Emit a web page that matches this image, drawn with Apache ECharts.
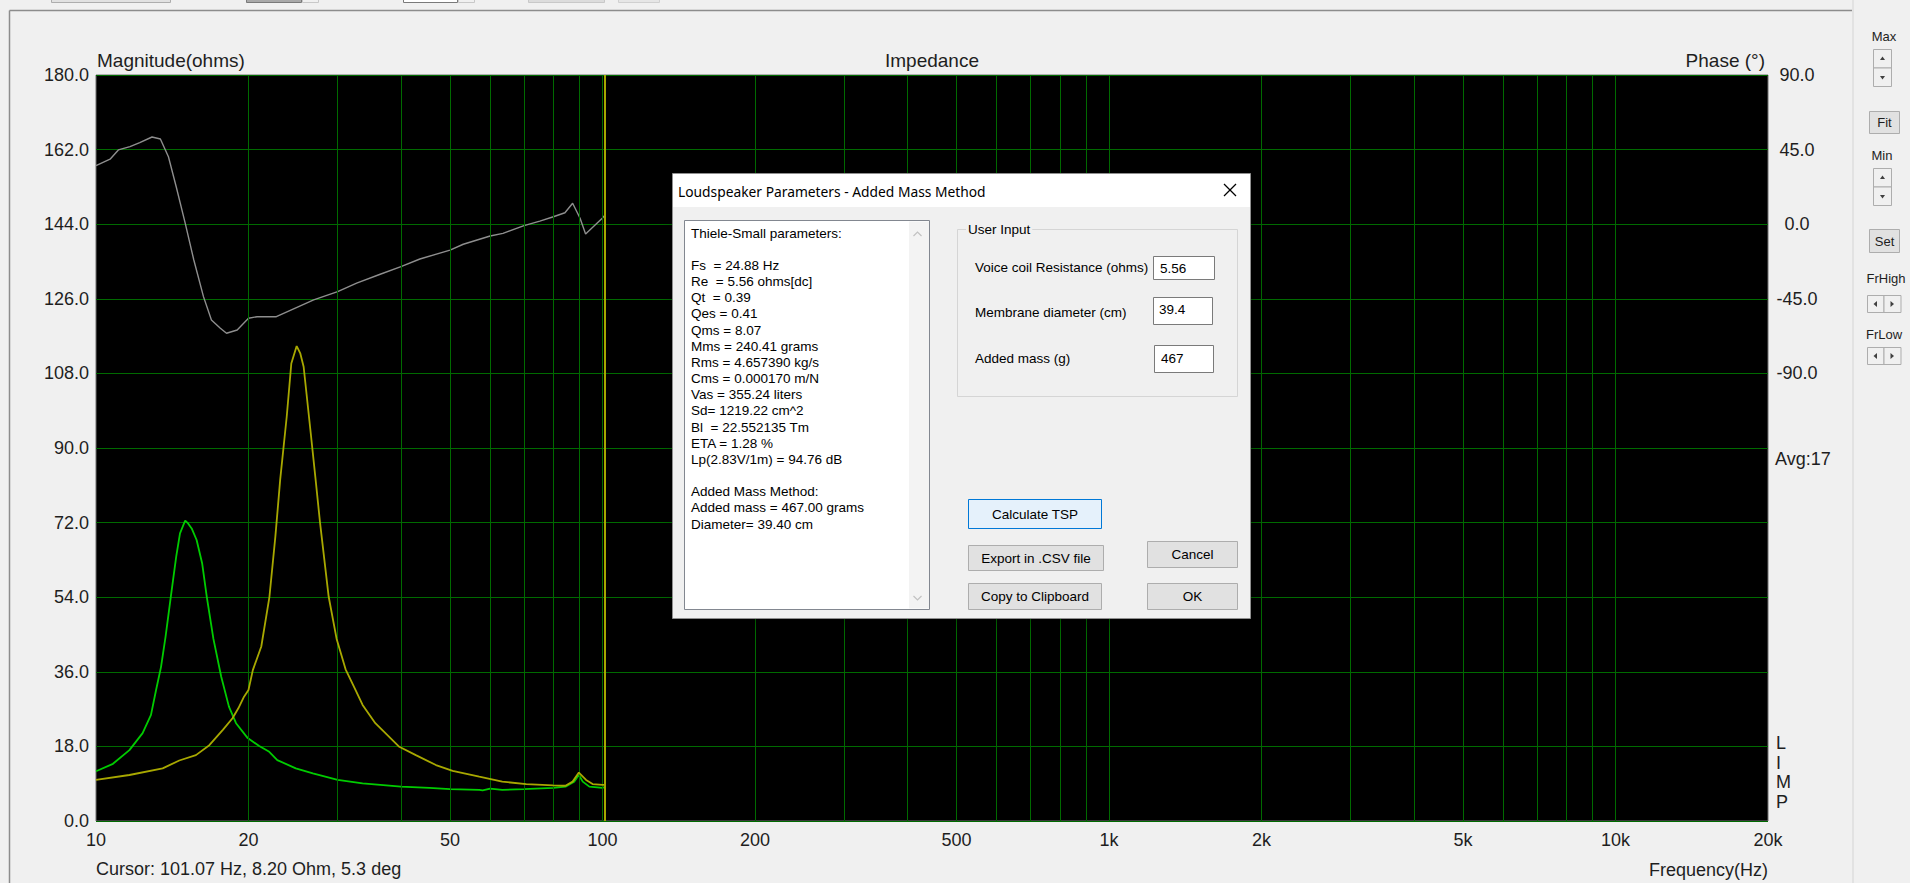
<!DOCTYPE html>
<html>
<head>
<meta charset="utf-8">
<script src="https://cdn.jsdelivr.net/npm/echarts@6/dist/echarts.min.js"></script>
<style>
html,body{margin:0;padding:0;background:#f0f0f0;}
#chart{width:1910px;height:883px;}
</style>
</head>
<body>
<div id="chart"></div>
<script>
// ---------- data ----------
const greenFreq = [10,10.8,11.64,12.36,12.84,13.14,13.44,13.72,14.05,14.4,14.65,15.0,15.2,15.45,15.8,16.2,16.55,17.05,17.67,18.3,18.9,19.93,21.0,21.98,22.8,24.8,26.8,30,33.6,40,45.5,50,57.1,58,60,63.4,70,80,84.5,87.9,89.8,91.4,94.2,100,101];
const greenMag  = [12.0,13.8,17.1,21.2,25.6,31.6,37.2,44.5,54.1,63.8,69.4,72.5,71.8,70.6,67.8,62.2,54.0,44.0,34.8,27.6,23.6,20.0,18.1,16.7,14.7,12.7,11.5,9.9,9.1,8.3,8.0,7.7,7.5,7.4,7.8,7.5,7.7,8.0,8.3,9.5,11.1,9.5,8.3,8.0,8.2];

const yellowFreq = [10,11.64,13.54,14.6,15.75,16.74,17.8,18.6,19.1,19.6,20.0,20.4,21.2,22.0,22.6,23.1,23.8,24.3,24.9,25.3,25.7,26.5,27.1,27.7,28.8,29.85,31.1,32.6,33.6,35.6,39.7,42.8,46.9,50.6,57.1,63.4,70.7,79.8,84.5,87.3,89.8,92.8,95.6,100,101];
const yellowMag  = [9.9,11.1,12.7,14.6,15.9,18.3,22.0,24.8,27.2,30.0,31.6,36.4,42.1,54.1,68.6,82.3,97.6,110.4,114.6,112.9,109.6,94.4,83.1,71.8,54.1,44.0,36.6,31.4,28.0,23.6,17.9,15.9,13.5,12.1,10.7,9.5,8.9,8.6,8.5,9.5,11.7,9.9,8.9,8.7,8.7];

const phaseFreq = [10,10.66,11.07,11.67,12.2,12.9,13.4,13.9,14.4,15.0,15.6,16.3,16.9,17.6,18.1,19.0,20.0,20.8,22.7,26.9,30,32.7,36.4,40,43.6,50,53.1,60,63.6,70,75.2,80,84.3,87.3,90.3,92.6,100,101];
const phaseDeg  = [35.3,39.2,44.8,46.8,49.2,52.6,51.4,40.7,22.6,0.6,-21.6,-43.7,-57.8,-62.8,-65.8,-63.8,-56.7,-55.8,-55.8,-45.7,-40.7,-35.6,-30.2,-25.6,-21.0,-15.6,-12.1,-7.1,-5.5,-0.9,1.9,4.5,6.9,12.6,3.6,-5.9,3.7,5.3];

const cursorFreq = 101.07;
const freqTickLabels = [10,20,50,100,200,500,1000,2000,5000,10000,20000];
const freqGridLines = [20,30,40,50,60,70,80,90,100,200,300,400,500,600,700,800,900,1000,2000,3000,4000,5000,6000,7000,8000,9000,10000];

const dialogLines = [
  "Thiele-Small parameters:",
  "",
  "Fs  = 24.88 Hz",
  "Re  = 5.56 ohms[dc]",
  "Qt  = 0.39",
  "Qes = 0.41",
  "Qms = 8.07",
  "Mms = 240.41 grams",
  "Rms = 4.657390 kg/s",
  "Cms = 0.000170 m/N",
  "Vas = 355.24 liters",
  "Sd= 1219.22 cm^2",
  "Bl  = 22.552135 Tm",
  "ETA = 1.28 %",
  "Lp(2.83V/1m) = 94.76 dB",
  "",
  "Added Mass Method:",
  "Added mass = 467.00 grams",
  "Diameter= 39.40 cm"
];

// ---------- helpers ----------
const zip = (a, b) => a.map((v, i) => [v, b[i]]);
const FF = '"Liberation Sans", Arial, sans-serif';
function rect(x, y, w, h, fill, stroke, z, extra) {
  return Object.assign({type:'rect', silent:true, z:z||10, shape:{x:x, y:y, width:w, height:h},
    style:{fill:fill, stroke:stroke||null, lineWidth:1}}, extra||{});
}
function txt(s, x, y, size, align, va, color, z, family) {
  return {type:'text', silent:true, z:z||10, x:x, y:y,
    style:{text:s, fontSize:size, fontFamily:family||FF, fill:color||'#1e1e1e', align:align||'left', verticalAlign:va||'middle'}};
}
function line(x1, y1, x2, y2, color, w, z) {
  return {type:'line', silent:true, z:z||10, shape:{x1:x1,y1:y1,x2:x2,y2:y2}, style:{stroke:color, lineWidth:w||1}};
}
function tri(pts, z) {
  return {type:'polygon', silent:true, z:z||10, shape:{points:pts}, style:{fill:'#404040'}};
}

const gfx = [];
// toolbar fragments at very top
gfx.push(rect(51.5,-3,119,5.5,'#e1e1e1','#adadad',5));
gfx.push(rect(246.5,-3,55,5.5,'#a9a9a9','#7a7a7a',5));
gfx.push(rect(302.5,-3,16,5.5,'#f0f0f0','#c8c8c8',5));
gfx.push(rect(403.5,-3,54,5.5,'#ffffff','#7a7a7a',5));
gfx.push(rect(458.5,-3,16,5.5,'#f0f0f0','#c8c8c8',5));
gfx.push(rect(528.5,-3,76,5.5,'#dcdcdc','#c8c8c8',5));
gfx.push(rect(618.5,-3,41,5.5,'#e6e6e6','#d0d0d0',5));
// panel borders
gfx.push(line(9.5,10.5,9.5,883,'#8c8c8c',1.5,5));
gfx.push(line(9.5,10.5,1852,10.5,'#8c8c8c',1.5,5));
gfx.push(line(1853,0,1853,883,'#e2e2e2',2,5));
// axis titles
gfx.push(txt('Magnitude(ohms)',97,60,19,'left','middle'));
gfx.push(txt('Impedance',932,60,19,'center','middle'));
gfx.push(txt('Phase (°)',1765,60,19,'right','middle'));
gfx.push(txt('Avg:17',1775,459,18,'left','middle'));
['L','I','M','P'].forEach((c,i)=>gfx.push(txt(c,1776,743+i*19.7,18,'left','middle')));
gfx.push(txt('Frequency(Hz)',1768,870,18,'right','middle'));
gfx.push(txt('Cursor: 101.07 Hz, 8.20 Ohm, 5.3 deg',96,869,18,'left','middle'));

// side panel
const SP = 13;
gfx.push(txt('Max',1884,36,SP,'center','middle'));
gfx.push(rect(1873.5,49.5,18,18.5,'#f0f0f0','#adadad'));
gfx.push(rect(1873.5,68,18,18.5,'#f0f0f0','#adadad'));
gfx.push(tri([[1880,60],[1885,60],[1882.5,56.5]]));
gfx.push(tri([[1880,76],[1885,76],[1882.5,79.5]]));
gfx.push(rect(1869.5,111.5,30,22,'#e1e1e1','#adadad'));
gfx.push(txt('Fit',1884.5,122.5,SP,'center','middle'));
gfx.push(txt('Min',1882,155,SP,'center','middle'));
gfx.push(rect(1873.5,168.5,18,18.5,'#f0f0f0','#adadad'));
gfx.push(rect(1873.5,187,18,18.5,'#f0f0f0','#adadad'));
gfx.push(tri([[1880,179],[1885,179],[1882.5,175.5]]));
gfx.push(tri([[1880,195],[1885,195],[1882.5,198.5]]));
gfx.push(rect(1869.5,229.5,30,23,'#e1e1e1','#adadad'));
gfx.push(txt('Set',1884.5,241,SP,'center','middle'));
gfx.push(txt('FrHigh',1886,278,SP,'center','middle'));
gfx.push(rect(1867.5,295.5,16.5,17,'#f0f0f0','#adadad'));
gfx.push(rect(1884,295.5,17,17,'#f0f0f0','#adadad'));
gfx.push(tri([[1877,301],[1877,307],[1873.5,304]]));
gfx.push(tri([[1890.5,301],[1890.5,307],[1894,304]]));
gfx.push(txt('FrLow',1884,334,SP,'center','middle'));
gfx.push(rect(1867.5,347.5,16.5,17,'#f0f0f0','#adadad'));
gfx.push(rect(1884,347.5,17,17,'#f0f0f0','#adadad'));
gfx.push(tri([[1877,353],[1877,359],[1873.5,356]]));
gfx.push(tri([[1890.5,353],[1890.5,359],[1894,356]]));

// dialog
const DZ = 100;
gfx.push(rect(672.5,173.5,578,445,'#f0f0f0','#8f8f8f',DZ,
  {style:{fill:'#f0f0f0',stroke:'#8f8f8f',lineWidth:1,shadowBlur:14,shadowColor:'rgba(0,0,0,0.35)',shadowOffsetX:2,shadowOffsetY:3}}));
gfx.push(rect(673,174,577,33,'#ffffff',null,DZ+1));
gfx.push(txt('Loudspeaker Parameters - Added Mass Method',678,191,13.8,'left','middle','#000',DZ+2,'"Noto Sans", "Open Sans", sans-serif'));
gfx.push(line(1224,184,1236,196,'#000',1.2,DZ+2));
gfx.push(line(1236,184,1224,196,'#000',1.2,DZ+2));
// text box
gfx.push(rect(684.5,220.5,245,389,'#ffffff','#828790',DZ+1));
gfx.push(rect(909,221.5,20,387,'#f3f3f3',null,DZ+2));
gfx.push({type:'polyline',silent:true,z:DZ+3,shape:{points:[[913.5,236],[917.5,232],[921.5,236]]},style:{stroke:'#c2c2c2',lineWidth:1.2,fill:null}});
gfx.push({type:'polyline',silent:true,z:DZ+3,shape:{points:[[913.5,596],[917.5,600],[921.5,596]]},style:{stroke:'#c2c2c2',lineWidth:1.2,fill:null}});
gfx.push({type:'text',silent:true,z:DZ+3,x:691,y:225,
  style:{text:dialogLines.join('\n'),fontSize:13.5,fontFamily:FF,fill:'#000',align:'left',verticalAlign:'top',lineHeight:16.17}});
// user input group
gfx.push(rect(957.5,229.5,280,167,null,'#d5d5d5',DZ+1));
gfx.push({type:'text',silent:true,z:DZ+2,x:966,y:229,
  style:{text:'User Input',fontSize:13.5,fontFamily:FF,fill:'#000',align:'left',verticalAlign:'middle',backgroundColor:'#f0f0f0',padding:[0,2]}});
gfx.push(txt('Voice coil Resistance (ohms)',975,267,13.5,'left','middle','#000',DZ+2));
gfx.push(txt('Membrane diameter (cm)',975,312,13.5,'left','middle','#000',DZ+2));
gfx.push(txt('Added mass (g)',975,358,13.5,'left','middle','#000',DZ+2));
gfx.push(rect(1153.5,256.5,61,23,'#ffffff','#7a7a7a',DZ+2));
gfx.push(rect(1153.5,297.5,59,27,'#ffffff','#7a7a7a',DZ+2));
gfx.push(rect(1154.5,345.5,59,27,'#ffffff','#7a7a7a',DZ+2));
gfx.push(txt('5.56',1160,268,13.5,'left','middle','#000',DZ+3));
gfx.push(txt('39.4',1159,309,13.5,'left','middle','#000',DZ+3));
gfx.push(txt('467',1161,358,13.5,'left','middle','#000',DZ+3));
// buttons
function button(label, x, y, w, h, fill, stroke) {
  gfx.push(rect(x+0.5,y+0.5,w,h,fill,stroke,DZ+2));
  gfx.push(txt(label,x+w/2+0.5,y+h/2+0.5,13.5,'center','middle','#000',DZ+3));
}
button('Calculate TSP',968,499,133,29,'#e5f1fb','#0078d7');
button('Export in .CSV file',968,545,135,25,'#e1e1e1','#adadad');
button('Copy to Clipboard',968,583,133,26,'#e1e1e1','#adadad');
button('Cancel',1147,541,90,26,'#e1e1e1','#adadad');
button('OK',1147,583,90,26,'#e1e1e1','#adadad');

// ---------- chart ----------
const chart = echarts.init(document.getElementById('chart'), null, {renderer:'svg', width:1910, height:883});
const GRID = '#006a00';
const labelStyle = {color:'#1e1e1e', fontSize:18, fontFamily:FF};
chart.setOption({
  animation:false,
  backgroundColor:'#f0f0f0',
  grid:{left:96, top:75, right:142, bottom:62, show:true, backgroundColor:'#000', borderColor:'#707070', borderWidth:1, containLabel:false},
  xAxis:{
    type:'log', logBase:10, min:10, max:20000,
    axisLine:{show:false}, axisTick:{show:false}, splitLine:{show:false}, minorTick:{show:false},
    axisLabel:Object.assign({}, labelStyle, {margin:10, customValues:freqTickLabels,
      formatter:v => v >= 1000 ? (v/1000)+'k' : String(v)})
  },
  yAxis:[
    {type:'value', min:0, max:180, interval:18, position:'left',
     axisLine:{show:false}, axisTick:{show:false},
     splitLine:{show:true, lineStyle:{color:GRID, width:1}},
     axisLabel:Object.assign({}, labelStyle, {margin:7, formatter:v => v.toFixed(1)})},
    {type:'value', min:-360, max:90, interval:45, position:'right',
     axisLine:{show:false}, axisTick:{show:false}, splitLine:{show:false},
     axisLabel:Object.assign({}, labelStyle, {margin:29, align:'center', formatter:v => v >= -90 ? v.toFixed(1) : ''})}
  ],
  series:[
    {name:'grid', type:'line', data:[[10,0]], showSymbol:false, symbol:'none', lineStyle:{opacity:0}, z:1, silent:true,
     markLine:{silent:true, symbol:['none','none'], label:{show:false}, animation:false,
       lineStyle:{color:GRID, width:1, type:'solid'}, emphasis:{disabled:true},
       data:freqGridLines.map(f => ({xAxis:f}))}},
    {name:'Phase', type:'line', yAxisIndex:1, data:zip(phaseFreq, phaseDeg), showSymbol:false, symbol:'none',
     lineStyle:{color:'#8e8e8e', width:1.4}, z:3, silent:true},
    {name:'Magnitude (added mass)', type:'line', data:zip(greenFreq, greenMag), showSymbol:false, symbol:'none',
     lineStyle:{color:'#00cc00', width:1.8}, z:4, silent:true},
    {name:'Magnitude', type:'line', data:zip(yellowFreq, yellowMag), showSymbol:false, symbol:'none',
     lineStyle:{color:'#a8a800', width:1.8}, z:5, silent:true,
     markLine:{silent:true, symbol:['none','none'], label:{show:false}, animation:false,
       lineStyle:{color:'#a6a600', width:2, type:'solid'}, emphasis:{disabled:true},
       data:[{xAxis:cursorFreq}]}}
  ],
  graphic:{elements:gfx}
});
</script>
</body>
</html>
